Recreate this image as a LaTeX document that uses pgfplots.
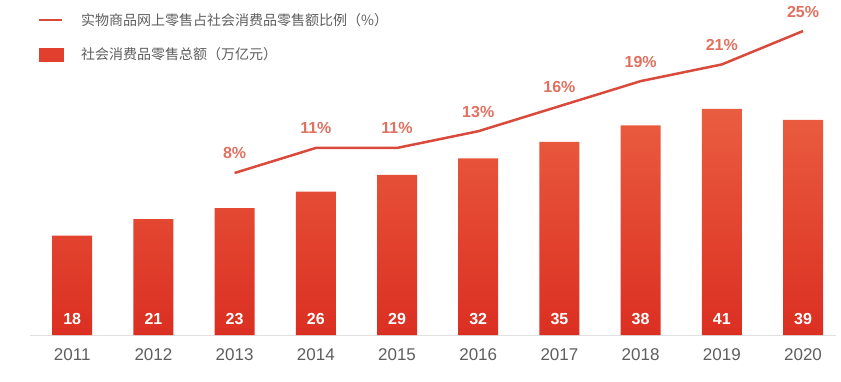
\documentclass[border=0pt]{standalone}
\usepackage{pgfplots}
\pgfplotsset{compat=1.18}
\usepackage{fontspec}
\setmainfont{Liberation Sans}
\newfontfamily\cjk{Noto Sans CJK SC}
\definecolor{barTop}{HTML}{EA5D40}
\definecolor{barBot}{HTML}{DB2F22}
\definecolor{legBar}{HTML}{E23F2E}
\definecolor{lineCol}{HTML}{D94A3C}
\definecolor{lblCol}{HTML}{E0705F}
\definecolor{txtCol}{HTML}{5E5E5E}
\begin{document}
\begin{tikzpicture}
\path[use as bounding box] (-30pt,-46pt) rectangle (811pt,335pt);
\begin{axis}[
  scale only axis, width=805.5pt, height=325pt,
  xmin=-0.52, xmax=9.4, ymin=0, ymax=58.9,
  /pgf/number format/assume math mode=true,
  axis x line=bottom, axis y line=none,
  x axis line style={draw=black!12, line width=0.8pt, -},
  xtick={0,...,9}, major tick length=0pt,
  xticklabels={2011,2012,2013,2014,2015,2016,2017,2018,2019,2020},
  xticklabel style={anchor=base, yshift=-25pt, font=\fontsize{17}{20}\selectfont, text=txtCol},
  clip=false,
]
\addplot[ybar, bar width=40pt, draw=none, top color=barTop, bottom color=barBot]
  coordinates {(0,18)(1,21)(2,23)(3,26)(4,29)(5,32)(6,35)(7,38)(8,41)(9,39)};
\addplot[draw=none, mark=none, point meta=explicit,
  nodes near coords={\pgfmathprintnumber{\pgfplotspointmeta}},
  every node near coord/.style={anchor=base, yshift=11pt, text=white, font=\bfseries\fontsize{16}{18}\selectfont}]
  coordinates {(0,0)[18] (1,0)[21] (2,0)[23] (3,0)[26] (4,0)[29] (5,0)[32] (6,0)[35] (7,0)[38] (8,0)[41] (9,0)[39]};
\end{axis}
\begin{axis}[
  scale only axis, width=805.5pt, height=325pt,
  xmin=-0.52, xmax=9.4, ymin=-11.40, ymax=27.52,
  /pgf/number format/assume math mode=true,
  hide x axis, hide y axis, clip=false,
  legend style={at={(8pt,322pt)}, anchor=north west, draw=none, fill=none,
    font=\cjk\fontsize{14}{16}\selectfont, text=txtCol,
    row sep=21pt, inner sep=0pt,
    nodes={inner sep=0pt, anchor=west},
    /tikz/every odd column/.style={column sep=18pt}},
  legend cell align=left,
]
\addplot[color=lineCol, line width=2.5pt, mark=none,
  nodes near coords={\pgfmathprintnumber{\pgfplotspointmeta}\%},
  every node near coord/.style={anchor=base, yshift=14pt, text=lblCol, font=\bfseries\fontsize{16}{18}\selectfont},
  legend image code/.code={\draw[lineCol, line width=1.6pt] (0pt,0pt) -- (23pt,0pt);}]
  coordinates {(2,8)(3,11)(4,11)(5,13)(6,16)(7,19)(8,21)(9,25)};
\addlegendentry{实物商品网上零售占社会消费品零售额比例（\%）}
\addlegendimage{legend image code/.code={\fill[legBar] (0pt,-6.5pt) rectangle (24pt,6.5pt);}}
\addlegendentry{社会消费品零售总额（万亿元）}
\end{axis}
\end{tikzpicture}
\end{document}
